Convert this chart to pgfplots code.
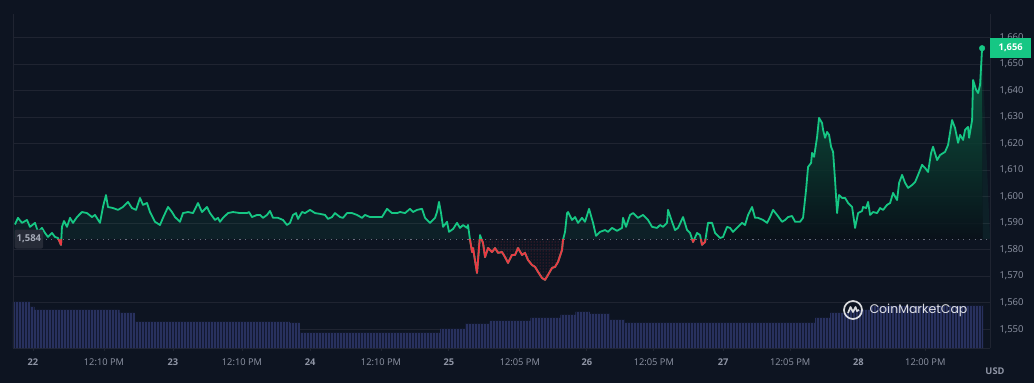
\documentclass[border=0pt]{standalone}
\usepackage{fontspec}
\setmainfont{Open Sans}
\newfontfamily\cmcfont{Poppins}
\usepackage{pgfplots}
\usepackage{pgfplotstable}
\pgfplotsset{compat=1.18}
\usepgfplotslibrary{fillbetween}
\usetikzlibrary{patterns}
\definecolor{bg}{HTML}{0D1421}
\definecolor{grd}{HTML}{1F2431}
\definecolor{up}{HTML}{16C784}
\definecolor{dn}{HTML}{EA3943}
\definecolor{lbl}{HTML}{8F95A5}
\definecolor{vol}{HTML}{28315E}
\definecolor{volgap}{HTML}{121830}
\definecolor{badge}{HTML}{262B37}
\pagecolor{bg}

\pgfplotstableread{
h p
-3.12 1589.5
-2.60 1592.0
-1.90 1590.1
-1.04 1591.2
-0.52 1588.6
0.35 1590.1
0.87 1586.7
1.56 1588.2
2.08 1586.3
2.60 1584.8
3.29 1586.3
3.81 1584.8
4.33 1584.4
4.85 1581.8
5.02 1588.6
5.37 1590.8
5.89 1588.6
6.41 1592.0
6.93 1590.1
7.62 1592.3
8.48 1594.2
9.35 1593.8
10.22 1592.3
10.74 1593.1
11.60 1590.1
12.12 1596.1
12.64 1600.6
12.99 1596.1
13.85 1595.7
14.72 1595.0
15.58 1596.1
16.45 1598.0
17.14 1595.7
17.84 1595.0
18.53 1599.5
19.05 1596.9
19.74 1597.6
20.26 1594.2
21.13 1590.5
21.99 1589.3
22.51 1592.0
23.38 1596.1
24.07 1594.2
24.59 1592.3
25.45 1590.5
25.97 1593.8
26.84 1594.2
27.71 1593.8
28.57 1597.6
29.26 1594.2
30.13 1596.1
30.65 1593.8
31.52 1591.2
32.03 1592.0
32.38 1590.5
32.90 1592.0
33.77 1593.8
34.63 1594.2
35.84 1593.8
37.06 1593.8
37.40 1594.2
37.92 1592.3
38.79 1593.1
39.31 1593.1
39.83 1592.0
40.52 1593.1
41.04 1594.6
41.56 1592.0
42.42 1592.0
43.29 1591.2
43.98 1589.3
44.50 1590.1
45.02 1593.1
45.54 1593.8
45.89 1591.6
46.58 1594.2
47.10 1593.8
47.97 1595.0
48.83 1593.8
49.70 1593.5
50.56 1593.1
51.08 1591.6
51.77 1592.3
52.29 1593.8
53.16 1592.3
53.68 1592.0
54.37 1593.8
55.24 1593.8
56.10 1593.1
56.97 1592.0
57.49 1593.1
58.35 1592.3
59.22 1592.3
60.43 1592.3
61.30 1595.4
62.16 1593.8
63.03 1593.8
63.55 1594.2
64.42 1593.8
65.28 1595.4
65.80 1594.2
66.49 1595.0
67.36 1595.4
67.88 1592.0
68.74 1590.1
69.61 1592.0
69.96 1594.2
70.30 1598.0
70.65 1593.8
71.00 1588.6
71.69 1590.5
72.03 1586.7
72.73 1587.8
73.42 1590.1
73.94 1588.2
74.46 1589.3
75.15 1588.2
75.32 1589.3
75.67 1583.7
76.02 1579.1
76.19 1580.6
76.88 1571.2
77.40 1585.5
77.92 1582.5
78.27 1577.2
78.79 1580.6
79.48 1579.1
80.00 1580.6
80.52 1578.8
81.21 1579.1
81.73 1577.2
82.25 1575.0
82.94 1578.0
83.46 1578.0
83.98 1580.6
84.68 1578.0
85.19 1578.8
85.71 1576.1
86.41 1574.2
86.93 1573.5
87.45 1571.6
88.14 1569.3
88.66 1568.6
89.18 1570.5
89.87 1573.1
90.39 1573.5
90.91 1575.4
91.60 1579.9
91.77 1583.7
92.12 1586.7
92.47 1593.8
92.64 1594.2
93.33 1591.2
93.85 1592.3
94.37 1590.1
95.06 1592.0
95.58 1590.5
96.28 1595.4
96.97 1590.1
97.49 1585.2
98.18 1586.7
99.05 1587.4
99.57 1586.7
100.26 1588.2
101.13 1587.1
101.99 1588.2
102.16 1592.0
102.68 1588.6
103.38 1593.1
103.90 1593.8
104.76 1592.0
105.63 1593.1
106.49 1591.2
107.19 1588.6
108.05 1588.2
108.57 1589.3
109.09 1588.6
109.78 1590.1
109.96 1595.0
110.65 1590.5
111.17 1587.4
111.69 1588.2
112.55 1592.3
113.25 1587.4
113.77 1586.3
114.29 1582.9
114.98 1586.3
115.50 1585.5
115.84 1581.8
116.36 1582.9
116.88 1590.1
117.58 1590.1
118.10 1586.3
118.96 1584.4
119.48 1584.8
120.17 1588.6
120.69 1588.2
121.21 1586.7
122.08 1588.6
122.77 1590.1
123.29 1589.3
123.81 1593.1
124.50 1596.1
125.02 1592.0
125.54 1592.0
126.41 1591.2
127.10 1590.1
127.62 1592.3
128.14 1595.0
128.83 1593.1
129.70 1590.5
130.22 1591.2
130.74 1592.3
131.43 1592.7
131.95 1590.5
132.81 1590.5
133.33 1592.0
133.85 1602.5
134.20 1611.2
134.72 1612.7
134.89 1616.5
135.24 1615.0
135.76 1622.5
136.10 1629.7
136.62 1627.8
136.80 1625.2
137.14 1622.2
137.49 1624.4
137.84 1623.3
138.18 1618.8
138.53 1616.9
138.87 1606.3
139.22 1593.8
139.57 1600.6
140.09 1599.5
140.61 1599.5
141.13 1597.6
141.82 1596.1
142.34 1588.2
142.86 1593.8
143.55 1594.6
143.72 1596.1
144.24 1595.7
144.59 1598.0
144.94 1593.1
145.45 1594.2
146.15 1593.8
146.67 1595.7
147.19 1595.0
147.88 1596.9
148.40 1597.6
148.92 1601.4
149.61 1598.7
149.96 1605.2
150.48 1608.2
151.00 1605.2
151.52 1603.3
152.21 1604.4
152.73 1605.5
153.25 1608.2
153.94 1612.0
154.46 1610.8
154.98 1609.3
155.50 1616.5
155.84 1618.8
156.54 1613.8
157.06 1615.7
157.92 1616.9
158.44 1619.5
159.13 1628.9
159.65 1625.9
160.17 1620.3
160.52 1623.3
161.04 1621.4
161.39 1625.2
161.90 1626.3
162.08 1622.2
162.60 1628.9
162.77 1644.0
163.29 1640.3
163.64 1639.1
163.98 1642.2
164.33 1656.0
}\price

\pgfplotstableread{
h v
-3.46 46
-0.87 46
-0.52 41
0.30 38
14.20 38
15.00 35
17.66 26
44.50 25
46.20 15
68.74 15
70.50 19
74.80 24
79.10 27
86.10 30
91.30 33
93.90 36
96.40 34
99.90 28
102.50 25
132.80 25
135.40 30
138.00 35
141.50 38
144.90 42
164.50 43
}\volume

\begin{document}
\begin{tikzpicture}
\begin{axis}[
  at={(0pt,0pt)}, anchor=south west,
  scale only axis, width=977pt, height=334pt,
  xmin=-3.46, xmax=165.7, ymin=0, ymax=334,
  hide axis,
]
\addplot[const plot, fill=vol, draw=none] table[x=h,y=v]{\volume} \closedcycle;
\addplot[const plot, pattern=vertical lines, pattern color=volgap, draw=none] table[x=h,y=v]{\volume} \closedcycle;
\end{axis}
\begin{axis}[
  at={(0pt,0pt)}, anchor=south west,
  scale only axis, width=977pt, height=334pt,
  xmin=-3.46, xmax=165.7, ymin=1542.9, ymax=1668.9,
  axis x line*=bottom, axis y line*=right,
  axis line style={draw=grd, line width=0.8pt, -},
  ymajorgrids, grid style={draw=grd, line width=0.8pt},
  ytick={1550,1560,...,1660},
  yticklabels={{1,550},{1,560},{1,570},{1,580},{1,590},{1,600},{1,610},{1,620},{1,630},{1,640},{1,650},{1,660}},
  ytick style={draw=none},
  yticklabel style={anchor=west, xshift=3pt, text=lbl, font=\fontsize{9.5}{10}\selectfont},
  xtick={0,12.29,24.24,36.19,48.0,60.26,72.0,84.3,95.9,107.5,119.5,131.1,142.9,154.5},
  xticklabels={\textbf{22},12:10 PM,\textbf{23},12:10 PM,\textbf{24},12:10 PM,\textbf{25},12:05 PM,\textbf{26},12:05 PM,\textbf{27},12:05 PM,\textbf{28},12:00 PM},
  xtick style={draw=grd, line width=0.8pt},
  tick align=outside, major tick length=3pt,
  xticklabel style={text=lbl, font=\fontsize{9.3}{10}\selectfont, yshift=-4pt},
  clip=false,
]
\draw[grd, line width=0.8pt] (rel axis cs:0,0) -- (rel axis cs:0,1);
\addplot[name path=price, draw=none] table[x=h,y=p]{\price};
\addplot[name path=base, draw=none] coordinates {(-3.46,1584) (165.7,1584)};
\addplot fill between[of=price and base, split,
   every even segment/.style={fill=up, fill opacity=0.07},
   every odd segment/.style={pattern=dots, pattern color=dn!60!bg}];
\addplot[draw=none, top color=up!75!bg, bottom color=bg, fill opacity=0.55] fill between[of=price and base, soft clip={domain=117:164.4}];
\addplot[lbl!70!bg, line width=1.1pt, dash pattern=on 1.1pt off 4.6pt] coordinates {(2.2,1584) (165.3,1584)};
\addplot[up, line width=1.8pt, line join=round] table[x=h,y=p]{\price};
\begin{scope}
\clip (axis cs:-3.46,1584) rectangle (axis cs:165.7,1542.9);
\addplot[dn, line width=1.8pt, line join=round] table[x=h,y=p]{\price};
\end{scope}
\addplot[only marks, mark=*, mark size=2.8pt, up] coordinates {(164.33,1656)};
\node[fill=up, text=white, font=\bfseries\fontsize{9.3}{10}\selectfont, anchor=west, minimum width=41pt, minimum height=20pt, inner sep=1pt] at (axis cs:165.7,1656) {1,656};
\node[fill=badge, rounded corners=2pt, text=lbl!80!white, font=\bfseries\fontsize{9.5}{10}\selectfont, anchor=west, minimum height=19pt, inner sep=2pt] at (axis cs:-3.2,1584) {1,584};
\end{axis}
% watermark
\begin{scope}[shift={(840pt,38pt)}, white, opacity=0.85]
\draw[line width=1.7pt] (0,0) circle (9pt);
\draw[line width=1.7pt, line join=round] (-5pt,-3pt) -- (-2.5pt,3pt) -- (0pt,-2pt) -- (2.5pt,3pt) -- (4pt,-1pt) -- (6pt,0pt);
\end{scope}
\node[anchor=west, text=white, opacity=0.85, font=\cmcfont\fontsize{12.5}{14}\selectfont] at (853pt,38pt) {CoinMarketCap};
\node[text=lbl, font=\bfseries\fontsize{9.3}{10}\selectfont] at (982pt,-23pt) {USD};
\pgfresetboundingbox
\path (-13pt,-35pt) rectangle (1021pt,348pt);
\end{tikzpicture}
\end{document}
